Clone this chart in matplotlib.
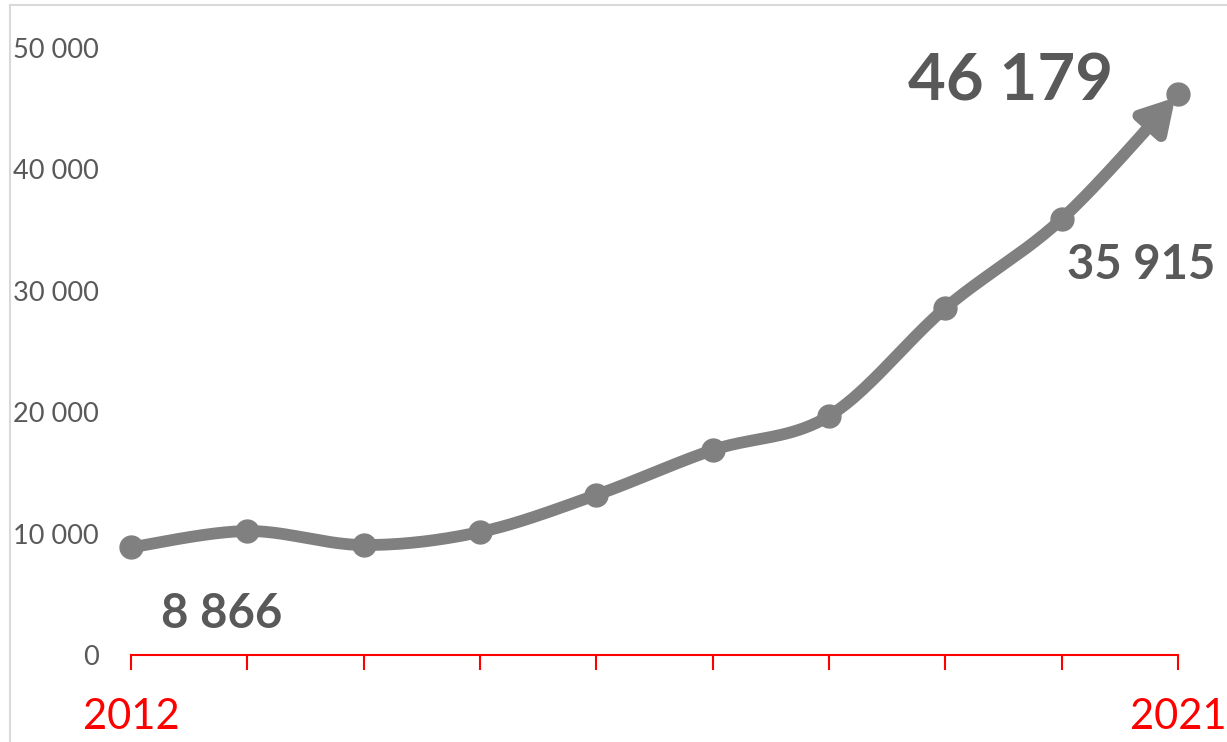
import numpy as np
import matplotlib
matplotlib.use("Agg")
import matplotlib.pyplot as plt
from matplotlib.lines import Line2D

years = [2012, 2013, 2014, 2015, 2016, 2017, 2018, 2019, 2020, 2021]
values = [8866, 10210, 9060, 10130, 13180, 16880, 19680, 28580, 35915, 46179]
y_ticks = [0, 10000, 20000, 30000, 40000, 50000]
y_tick_labels = ["0", "10 000", "20 000", "30 000", "40 000", "50 000"]
x_tick_labels = ["2012", "", "", "", "", "", "", "", "", "2021"]
callouts = {0: "8 866", 8: "35 915", 9: "46 179"}

GRAY = "#808080"
TEXT = "#595959"
RED = "#FF0000"
FONT = "Lato"

W, H = 1227, 742
fig = plt.figure(figsize=(W / 100, H / 100), dpi=100)
ax = fig.add_axes([131 / W, 1 - 655 / H, (1178 - 131) / W, (655 - 48) / H])

x = np.arange(len(years), dtype=float)
y = np.array(values, dtype=float)

# Smooth curve (Catmull-Rom style Bezier, like spreadsheet smoothing)
def smooth(xs, ys, n=40):
    pts = np.column_stack([xs, ys])
    out = []
    m = len(pts)
    for i in range(m - 1):
        p0 = pts[i - 1] if i > 0 else pts[i]
        p1 = pts[i]
        p2 = pts[i + 1]
        p3 = pts[i + 2] if i + 2 < m else pts[i + 1]
        c1 = p1 + (p2 - p0) / 6.0
        c2 = p2 - (p3 - p1) / 6.0
        t = np.linspace(0, 1, n)[:, None]
        seg = ((1 - t) ** 3) * p1 + 3 * ((1 - t) ** 2) * t * c1 + 3 * (1 - t) * t ** 2 * c2 + t ** 3 * p2
        if i > 0:
            seg = seg[1:]
        out.append(seg)
    s = np.vstack(out)
    return s[:, 0], s[:, 1]

sx, sy = smooth(x, y)
cut = len(sx) - 14
ax.plot(sx[:cut], sy[:cut], color=GRAY, lw=8.5, solid_capstyle="butt", clip_on=False, zorder=3)
ax.annotate("", xy=(x[-1], y[-1]), xytext=(sx[cut - 1], sy[cut - 1]),
            arrowprops=dict(arrowstyle="-|>,head_length=1.9,head_width=1.1", color=GRAY, lw=8.5,
                            shrinkA=0, shrinkB=3),
            annotation_clip=False, zorder=3)
ax.plot(x, y, linestyle="none", marker="o", ms=16.5, color=GRAY, clip_on=False, zorder=4)

ax.set_xlim(0, 9)
ax.set_ylim(0, 50000)
ax.set_yticks(y_ticks)
ax.set_yticklabels(y_tick_labels, fontsize=19.5, color=TEXT, family=FONT)
ax.set_xticks(x)
ax.set_xticklabels(x_tick_labels, fontsize=30, color=RED, family=FONT)
ax.tick_params(axis="y", length=0, pad=23)
ax.tick_params(axis="x", length=11, width=1.5, color=RED, direction="out", pad=20)
for s in ["top", "right", "left"]:
    ax.spines[s].set_visible(False)
ax.spines["bottom"].set_color(RED)
ax.spines["bottom"].set_linewidth(1.5)

# callouts
ax.text(x[0] + 0.78, 8866 - 5500, callouts[0], fontsize=34, fontweight="bold", color=TEXT,
        family=FONT, ha="center", va="center")
ax.text(x[8] + 0.68, 35915 - 3800, callouts[8], fontsize=34, fontweight="bold", color=TEXT,
        family=FONT, ha="center", va="center")
ax.text(x[9] - 1.44, 46179 + 1000, callouts[9], fontsize=47, fontweight="bold", color=TEXT,
        family=FONT, ha="center", va="center")

# chart frame
fig.add_artist(Line2D([10 / W, 10 / W], [0, 1 - 5 / H], color="#D9D9D9", lw=1.5))
fig.add_artist(Line2D([10 / W, 1], [1 - 5 / H, 1 - 5 / H], color="#D9D9D9", lw=1.5))

fig.savefig("out.png", dpi=100)
